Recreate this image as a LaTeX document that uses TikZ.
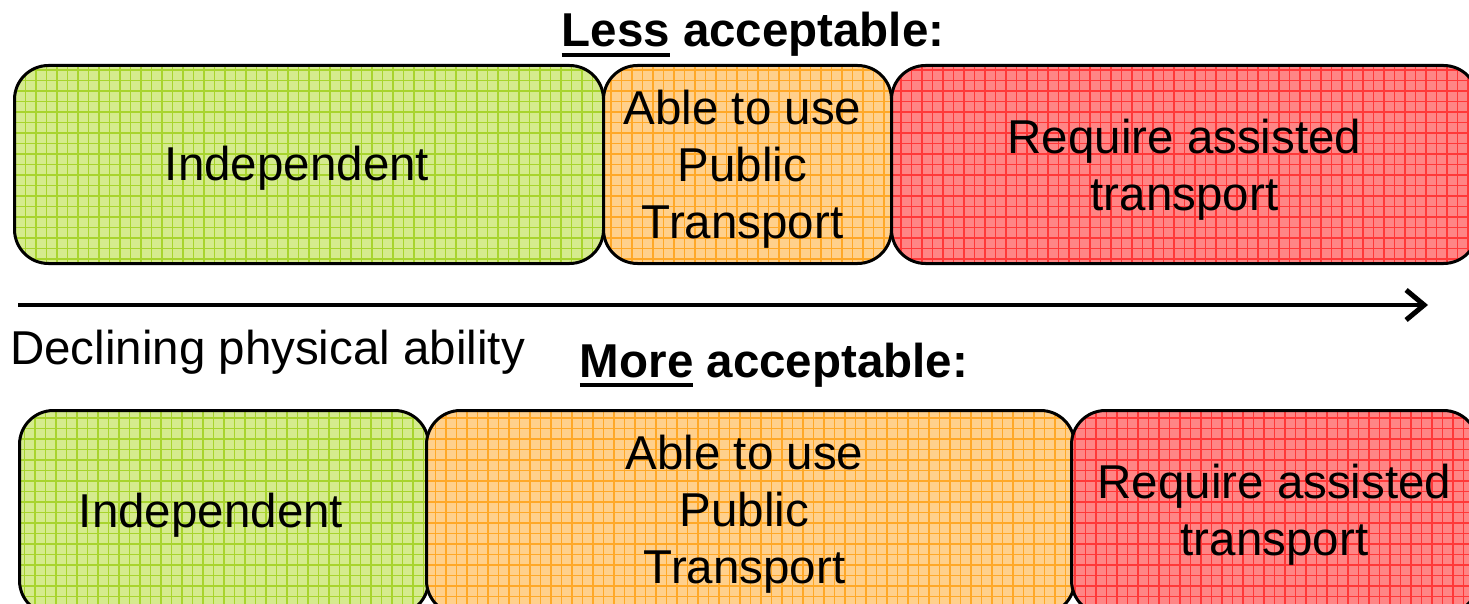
\documentclass[tikz,border=0pt]{standalone}
\usepackage{fontspec}
\setmainfont{Liberation Sans}
\usetikzlibrary{arrows.meta}
\definecolor{greenfill}{HTML}{D5EB8E}
\definecolor{greengrid}{HTML}{A8D42E}
\definecolor{orangefill}{HTML}{FFD08C}
\definecolor{orangegrid}{HTML}{FFA828}
\definecolor{redfill}{HTML}{FF8585}
\definecolor{redgrid}{HTML}{FF3838}
\newcommand{\bigtext}{\fontsize{47.5}{57}\selectfont}
\newcommand{\lineunder}[1]{\vtop{\hbox{#1}\kern6pt\hrule height 4pt}}
\tikzset{
  band/.style={draw=black, line width=3pt, rounded corners=34pt, anchor=north west,
    inner sep=0pt, fill=#1fill,
    path picture={\draw[#1grid, line width=1.4pt]
      (path picture bounding box.south west) grid[step=10.5pt]
      (path picture bounding box.north east);}},
  bandtext/.style={align=center, inner sep=0pt, font=\bigtext},
  heading/.style={anchor=base, font=\bigtext\bfseries},
}
\begin{document}
\begin{tikzpicture}[x=1pt,y=-1pt]
	\useasboundingbox (0,0) rectangle (1469,604);
	% less acceptable row
	\node[heading] (less) at (753,47) {\lineunder{Less} acceptable:};
	\node[band=green, minimum width=589, minimum height=198] (lessind) at (13,64) {};
	\node[band=orange, minimum width=288, minimum height=198] (lesspub) at (602,64) {};
	\node[band=red, minimum width=586, minimum height=198] (lessass) at (890,64) {};
	\node[bandtext] (lessindtxt) at ([shift={(-12,4)}]lessind.center) {Independent};
	\node[bandtext] (lesspubtxt) at ([shift={(-5,5)}]lesspub.center) {Able to use\\Public\\Transport};
	\node[bandtext] (lessasstxt) at ([shift={(0,5)}]lessass.center) {Require assisted\\transport};
	% arrow
	\coordinate (arrstart) at (18,305);
	\coordinate (arrend) at (1428,305);
	\draw[-{Straight Barb[length=18pt,width=30pt,line width=5pt]}, line width=4.5pt] (arrstart) -- (arrend);
	\node[anchor=base west, font=\bigtext, inner sep=0pt] (decline) at (10,364) {Declining physical ability};
	% more acceptable row
	\node[heading] (more) at (774,377) {\lineunder{More} acceptable:};
	\node[band=green, minimum width=409, minimum height=204] (moreind) at (18,409) {};
	\node[band=orange, minimum width=648, minimum height=204] (morepub) at (425,409) {};
	\node[band=red, minimum width=406, minimum height=204] (moreass) at (1070,409) {};
	\node[bandtext] (moreindtxt) at ([shift={(-13,3)}]moreind.center) {Independent};
	\node[bandtext] (morepubtxt) at ([shift={(-6,2)}]morepub.center) {Able to use\\Public\\Transport};
	\node[bandtext] (moreasstxt) at ([shift={(0,2)}]moreass.center) {Require assisted\\transport};
\end{tikzpicture}
\end{document}
